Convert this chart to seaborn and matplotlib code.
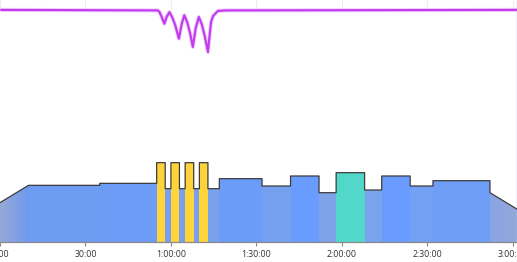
import numpy as np
import pandas as pd
import matplotlib
matplotlib.use("Agg")
import matplotlib.pyplot as plt
from matplotlib.colors import LinearSegmentedColormap
from matplotlib.patches import Polygon
import seaborn as sns

# ---- workout profile (minutes, % FTP) ----
seg_start = [0, 10, 35, 55, 58, 60, 63, 65, 68, 70, 73, 77, 92, 102, 112, 118, 128, 134, 144, 152, 172]
seg_end   = [10, 35, 55, 58, 60, 63, 65, 68, 70, 73, 77, 92, 102, 112, 118, 128, 134, 144, 152, 172, 182]
seg_from  = [59, 85, 88, 119, 80, 119, 80, 119, 80, 119, 80, 95, 84, 99, 74, 104, 78, 99, 84, 92, 74]
seg_to    = [85, 85, 88, 119, 80, 119, 80, 119, 80, 119, 80, 95, 84, 99, 74, 104, 78, 99, 84, 92, 48]
seg_color = ["ramp", "#6d9cf3", "#6c9cf5", "#ffd43b", "#78a0ee", "#ffd43b", "#78a0ee",
             "#ffd43b", "#78a0ee", "#ffd43b", "#7aa2ec", "#6b9cf8", "#75a1f0", "#6a9bff",
             "#7ea3e8", "#52d8cb", "#7ba3ec", "#6a9bff", "#72a0f2", "#6e9ef5", "ramp"]

# ---- second series (magenta line, %) ----
line_t = [0.4, 55.4, 56.0, 56.7, 57.7, 58.5, 59.5, 60.4, 61.5, 62.8, 63.8, 64.7, 65.7, 66.7,
          67.7, 68.7, 69.8, 70.8, 71.8, 73.0, 73.6, 74.1, 74.8, 76.5, 79.4, 181.8]
line_v = [95.9, 95.7, 95.0, 93.2, 90.2, 93.0, 95.0, 93.0, 89.7, 84.0, 90.1, 93.7, 90.9, 86.4,
          80.6, 88.4, 93.0, 90.1, 85.5, 78.5, 85.5, 90.9, 93.4, 95.5, 95.7, 95.9]

tick_minutes = [0, 30, 60, 90, 120, 150, 180]
tick_labels = ["0:00", "30:00", "1:00:00", "1:30:00", "2:00:00", "2:30:00", "3:00:00"]

sns.set_theme(style="white")
plt.rcParams["font.family"] = ["Open Sans", "DejaVu Sans"]

fig = plt.figure(figsize=(5.17, 2.62), dpi=100)
ax = fig.add_axes([0, 20 / 262, 1, 242 / 262])
YMAX = 363
ax.set_xlim(0.4, 181.5)
ax.set_ylim(0, YMAX)

# flat blocks
flat = [i for i in range(len(seg_start)) if seg_color[i] != "ramp"]
ax.bar([seg_start[i] for i in flat], [seg_from[i] for i in flat],
       width=[seg_end[i] - seg_start[i] for i in flat], align="edge",
       color=[seg_color[i] for i in flat], linewidth=0, zorder=2)

# ramps with gradient fill
ramp_cols = {0: ("#97aad6", "#7099ee"), len(seg_start) - 1: ("#88a4e4", "#95aada")}
for i, (c0, c1) in ramp_cols.items():
    x0, x1 = seg_start[i], seg_end[i]
    poly = Polygon([(x0, 0), (x0, seg_from[i]), (x1, seg_to[i]), (x1, 0)],
                   closed=True, facecolor="none", edgecolor="none")
    ax.add_patch(poly)
    cmap = LinearSegmentedColormap.from_list("g", [c0, c1])
    im = ax.imshow(np.linspace(0, 1, 64)[None, :], cmap=cmap, aspect="auto",
                   extent=(x0, x1, 0, max(seg_from[i], seg_to[i])), zorder=2)
    im.set_clip_path(poly)

# outline
ot, ov = [], []
for s, e, a, b in zip(seg_start, seg_end, seg_from, seg_to):
    ot += [s, e]
    ov += [a, b]
outline = pd.DataFrame({"t": ot, "v": ov})
sns.lineplot(data=outline, x="t", y="v", ax=ax, sort=False, estimator=None,
             color="#3c3c3c", linewidth=0.9, zorder=4)

ax.axvline(181.4, color="#a9bdf0", linewidth=1.0, zorder=3)

# magenta series on twin axis
ax2 = ax.twinx()
ax2.set_ylim(0, 100)
ax2.set_position(ax.get_position())
mdf = pd.DataFrame({"t": line_t, "v": line_v})
sns.lineplot(data=mdf, x="t", y="v", ax=ax2, sort=False, estimator=None,
             color="#e9a6f7", linewidth=3.0, alpha=0.5, zorder=5)
sns.lineplot(data=mdf, x="t", y="v", ax=ax2, sort=False, estimator=None,
             color="#c23cf0", linewidth=1.6, zorder=6)
ax2.set_xlim(0.4, 181.5)
ax2.axis("off")

ax.set_xticks(tick_minutes)
ax.set_xticklabels(tick_labels)
ax.set_yticks([])
ax.set_xlabel("")
ax.set_ylabel("")
ax.tick_params(axis="x", bottom=True, top=False, length=3, width=0.8, color="#888888",
               labelsize=6.3, labelcolor="#333333", pad=3)
for t in tick_minutes:
    ax.plot([t, t], [YMAX - 13, YMAX], color="#eeeeee", linewidth=0.8, zorder=1)
for side in ["top", "left", "right"]:
    ax.spines[side].set_visible(False)
ax.spines["bottom"].set_color("#8a8a8a")
ax.spines["bottom"].set_linewidth(0.9)

fig.savefig("out.png", dpi=100)
